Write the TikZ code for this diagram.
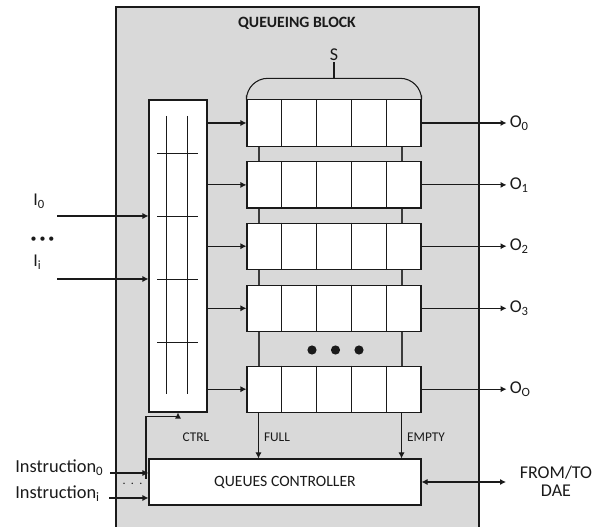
\documentclass[tikz,border=0pt]{standalone}
\usepackage{fontspec}
\setmainfont{Carlito}
\usetikzlibrary{arrows.meta,calc}
\definecolor{blockgrey}{HTML}{D9D9D9}
\definecolor{ink}{HTML}{1A1A1A}
\begin{document}
\begin{tikzpicture}[x=0.75pt,y=-0.75pt,
  line/.style={line width=0.8pt,draw=ink},
  thin/.style={line width=0.7pt,draw=ink},
  link/.style={line width=1.1pt,draw=ink!85},
  arr/.style={line,-{Latex[length=4.5pt,width=4.6pt]}},
  dblarr/.style={line,{Latex[length=4.5pt,width=4.6pt]}-{Latex[length=4.5pt,width=4.6pt]}},
  whitebox/.style={draw=ink,line width=0.8pt,fill=white,inner sep=0pt},
  queue/.style={whitebox,minimum width=130.5pt,minimum height=34.7pt},
  lbl/.style={inner sep=0pt,text=ink},
  iolbl/.style={lbl,font=\fontsize{13.5}{16}\selectfont},
  siglbl/.style={lbl,font=\fontsize{10}{12}\selectfont},
  bigdot/.style={fill=ink,draw=none}]
\useasboundingbox (0,0) rectangle (608,527);

% queueing block background
\fill[blockgrey] (116,7) rectangle (479,527);
\draw[line] (116,527) -- (116,7) -- (479,7) -- (479,527);
\node[lbl,font=\bfseries\fontsize{11.8}{14}\selectfont] (title) at (297,23) {QUEUEING BLOCK};

% queues
\node[queue] (q0) at (334,123) {};
\node[queue] (q1) at (334,184.9) {};
\node[queue] (q2) at (334,246.2) {};
\node[queue] (q3) at (334,308.3) {};
\node[queue] (q4) at (334,389.2) {};
\foreach \q in {q0,q1,q2,q3,q4}
  \foreach \k in {1,...,4}
    \draw[line] ($(\q.north west)!\k/5!(\q.north east)$) -- ($(\q.south west)!\k/5!(\q.south east)$);

% links between consecutive queues
\foreach \a/\b in {q0/q1,q1/q2,q2/q3,q3/q4} {
  \draw[link] ($(\a.south west)+(12.5,0)$) -- ($(\b.north west)+(12.5,0)$);
  \draw[link] ($(\a.south east)+(-19.5,0)$) -- ($(\b.north east)+(-19.5,0)$);
}

% more queues
\fill[bigdot] (312,350) circle[radius=4.6];
\fill[bigdot] (335.5,350) circle[radius=4.6];
\fill[bigdot] (359,350) circle[radius=4.6];

% queue size brace
\draw[line,rounded corners=16] ($(q0.north west)+(0,-4)$) -- ($(q0.north west)+(0,-21)$) -- ($(q0.north east)+(0,-21)$) -- ($(q0.north east)+(0,-4)$);
\coordinate (bracetop) at ($(q0.north)+(0,-21)$);
\node[lbl,font=\fontsize{13.5}{16}\selectfont] (size) at (334,55) {S};
\draw[line] (bracetop) -- ($(bracetop)+(0,-16)$);

% crossbar
\node[whitebox,minimum width=43.5pt,minimum height=234pt] (xbar) at (178,256) {};
\draw[thin] (166.5,116) -- (166.5,394);
\draw[thin] (187,116) -- (187,394);
\foreach \y in {153,216,279,342}
  \draw[thin] (157,\y) -- (198,\y);

% crossbar to queues
\foreach \q in {q0,q1,q2,q3,q4}
  \draw[arr] (\q.west -| xbar.east) -- (\q.west);

% inputs
\coordinate (in0) at (57,216);
\coordinate (ini) at (57,279);
\draw[arr] (in0) -- (in0 -| xbar.west);
\draw[arr] (ini) -- (ini -| xbar.west);
\node[iolbl,anchor=west] (lin0) at (33,201) {I\textsubscript{0}};
\node[lbl,font=\fontsize{9}{10}\selectfont] (lindots) at (42.5,240) {•\hspace{2.2pt}•\hspace{2.2pt}•};
\node[iolbl,anchor=west] (lini) at (33,262) {I\textsubscript{i}};

% outputs
\foreach \q/\s in {q0/0,q1/1,q2/2,q3/3,q4/O} {
  \path (\q.east) ++(85,0) coordinate (out\s);
  \draw[arr] (\q.east) -- (out\s);
  \node[iolbl,anchor=west] (lout\s) at ($(out\s)+(3,0)$) {O\textsubscript{\s}};
}

% queues controller
\node[whitebox,minimum width=204pt,minimum height=34.5pt,font=\fontsize{11.8}{14}\selectfont,text=ink] (ctrl) at (285,482) {QUEUES CONTROLLER};

\coordinate (fullsrc) at ($(q4.south west)+(12,0)$);
\coordinate (emptysrc) at ($(q4.south east)+(-20,0)$);
\draw[arr] (fullsrc) -- (fullsrc |- ctrl.north);
\draw[arr] (emptysrc) -- (emptysrc |- ctrl.north);
\node[siglbl] (lfull) at (277,437) {FULL};
\node[siglbl] (lempty) at (426,437) {EMPTY};
\node[siglbl] (lctrl) at (196,437) {CTRL};

% control path to crossbar
\coordinate (ctrlsrc) at (146,479);
\draw[arr] (ctrlsrc) |- ($(xbar.south)+(0,4)$) -- (xbar.south);

% instructions
\coordinate (ins0) at (110,473);
\coordinate (insi) at (109,498);
\draw[arr] (ins0) -- (ins0 -| ctrl.west);
\draw[arr] (insi) -- (insi -| ctrl.west);
\node[lbl,anchor=base west,font=\fontsize{13.8}{16}\selectfont] (lins0) at (15,473) {Instruction\textsubscript{0}};
\node[lbl,anchor=base west,font=\fontsize{13.8}{16}\selectfont] (linsi) at (15,499) {Instruction\textsubscript{i}};
\node[lbl,font=\fontsize{9}{10}\selectfont] (insdots) at (132.5,484) {.\hspace{4pt}.\hspace{4pt}.};

% external interface
\coordinate (dae) at (506,482);
\draw[dblarr] (ctrl.east) -- (dae);
\node[lbl,align=center,font=\fontsize{13.5}{13.8}\selectfont] (ldae) at (556,481) {FROM/TO\\DAE};
\end{tikzpicture}
\end{document}
